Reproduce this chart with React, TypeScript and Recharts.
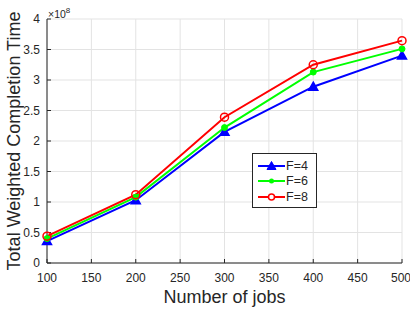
import React from 'react';
import { LineChart, Line, XAxis, YAxis, CartesianGrid } from 'recharts';

const jobs = [100, 200, 300, 400, 500];
const f4 = [0.36, 1.03, 2.15, 2.89, 3.4];
const f6 = [0.4, 1.08, 2.22, 3.13, 3.51];
const f8 = [0.44, 1.12, 2.39, 3.25, 3.645];
const xTicks = [100, 150, 200, 250, 300, 350, 400, 450, 500];
const yTicks = [0, 0.5, 1, 1.5, 2, 2.5, 3, 3.5, 4];

const data = jobs.map((j, i) => ({ jobs: j, f4: f4[i], f6: f6[i], f8: f8[i] }));

const AXIS = '#262626';
const FONT = '"Liberation Sans", Arial, Helvetica, sans-serif';

const Triangle = (props: any) => {
  const { cx, cy } = props;
  if (cx == null || cy == null) return null;
  return <path d={`M${cx},${cy - 4.5} L${cx + 4.5},${cy + 3.5} L${cx - 4.5},${cy + 3.5} Z`} fill="#0000ff" stroke="#0000ff" strokeWidth={1.5} />;
};
const Dot = (props: any) => {
  const { cx, cy } = props;
  if (cx == null || cy == null) return null;
  return <circle cx={cx} cy={cy} r={3} fill="#00ff00" stroke="#00ff00" />;
};
const Ring = (props: any) => {
  const { cx, cy } = props;
  if (cx == null || cy == null) return null;
  return <circle cx={cx} cy={cy} r={4} fill="none" stroke="#ff0000" strokeWidth={1.5} />;
};

const legendItems = [
  { label: 'F=4', color: '#0000ff', marker: 'tri' },
  { label: 'F=6', color: '#00ff00', marker: 'dot' },
  { label: 'F=8', color: '#ff0000', marker: 'ring' },
];

const LegendBox = () => (
  <div style={{ position: 'absolute', left: 252, top: 153, border: `1px solid ${AXIS}`, background: '#fff', width: 65, height: 55, boxSizing: 'border-box', padding: '4px 0 0 4px' }}>
    {legendItems.map((it) => (
      <div key={it.label} style={{ display: 'flex', alignItems: 'center', height: 15.5 }}>
        <svg width={29} height={12}>
          <line x1={1} y1={6} x2={28} y2={6} stroke={it.color} strokeWidth={2} />
          {it.marker === 'tri' && <path d="M14.5,1.5 L19,9.5 L10,9.5 Z" fill={it.color} stroke={it.color} />}
          {it.marker === 'dot' && <circle cx={14.5} cy={6} r={2.5} fill={it.color} />}
          {it.marker === 'ring' && <circle cx={14.5} cy={6} r={3} fill="#fff" stroke={it.color} strokeWidth={1.5} />}
        </svg>
        <span style={{ fontFamily: FONT, fontSize: 12.5, color: AXIS }}>{it.label}</span>
      </div>
    ))}
  </div>
);

export default function App() {
  return (
    <div style={{ position: 'absolute', left: 0, top: 0, width: 410, height: 312, background: '#fff' }}>
      <LineChart width={410} height={312} data={data} margin={{ top: 19, right: 8, left: 0, bottom: 0 }}>
        <CartesianGrid stroke="#e3e3e3" strokeWidth={1} />
        <XAxis
          dataKey="jobs"
          type="number"
          domain={[100, 500]}
          ticks={xTicks}
          height={49}
          stroke={AXIS}
          tickSize={-4}
          tickMargin={14}
          tick={{ fill: AXIS, fontSize: 12, fontFamily: FONT }}
          label={{ value: 'Number of jobs', position: 'insideBottom', offset: 9, fill: AXIS, fontSize: 18, fontFamily: FONT }}
        />
        <XAxis xAxisId="top" dataKey="jobs" type="number" domain={[100, 500]} ticks={xTicks} orientation="top" height={0} stroke={AXIS} tickSize={-4} tickFormatter={() => ''} />
        <YAxis
          type="number"
          domain={[0, 4]}
          ticks={yTicks}
          width={47}
          stroke={AXIS}
          tickSize={-4}
          tickMargin={11}
          tick={{ fill: AXIS, fontSize: 12, fontFamily: FONT }}
          label={{ value: 'Total Weighted Completion Time', angle: -90, position: 'insideLeft', offset: 14, fill: AXIS, fontSize: 18, fontFamily: FONT, style: { textAnchor: 'middle' } }}
        />
        <YAxis yAxisId="right" orientation="right" type="number" domain={[0, 4]} ticks={yTicks} width={0} stroke={AXIS} tickSize={-4} tickFormatter={() => ''} />
        <Line dataKey="f4" name="F=4" stroke="#0000ff" strokeWidth={2} dot={<Triangle />} isAnimationActive={false} />
        <Line dataKey="f6" name="F=6" stroke="#00ff00" strokeWidth={2} dot={<Dot />} isAnimationActive={false} />
        <Line dataKey="f8" name="F=8" stroke="#ff0000" strokeWidth={2} dot={<Ring />} isAnimationActive={false} />
      </LineChart>
      <LegendBox />
      <div style={{ position: 'absolute', left: 48, top: 6, fontFamily: FONT, fontSize: 10.5, color: AXIS }}>
        ×10<sup style={{ fontSize: 8 }}>8</sup>
      </div>
    </div>
  );
}
